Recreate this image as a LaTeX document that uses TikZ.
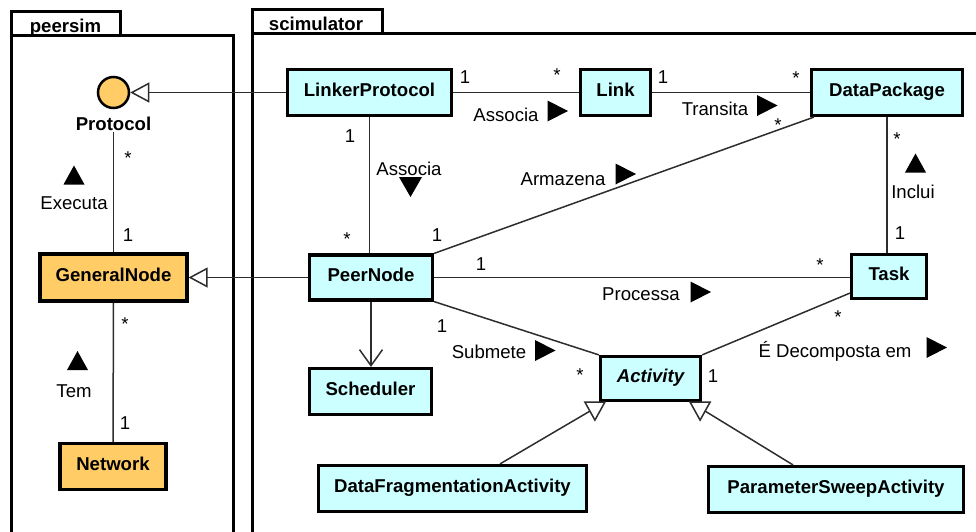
\documentclass[tikz,border=0pt]{standalone}
\usepackage{fontspec}
\setmainfont{Liberation Sans}
\usetikzlibrary{arrows.meta,calc}
\definecolor{clsfill}{RGB}{204,255,255}
\definecolor{orfill}{RGB}{255,204,102}
\definecolor{conncol}{RGB}{45,45,45}
\tikzset{
  every node/.style={font=\fontsize{18.6pt}{22pt}\selectfont},
  cls/.style={draw=black, line width=3.2pt, fill=clsfill, inner sep=0pt, text height=13.3pt, text depth=5pt, font=\fontsize{18.6pt}{22pt}\selectfont\bfseries},
  ocls/.style={cls, fill=orfill},
  pkg/.style={draw=black, line width=3pt},
  pkgname/.style={anchor=base, inner sep=0pt, font=\fontsize{18.6pt}{22pt}\selectfont\bfseries},
  lbl/.style={anchor=base, inner sep=0pt},
  conn/.style={draw=conncol, line width=1.5pt},
  gen/.style={conn, -{Triangle[length=19pt,width=20pt,fill=white]}},
  nav/.style={conn, -{Straight Barb[length=16pt,width=23pt]}},
  tright/.pic={\fill (-10,-10.5) -- (10.5,0) -- (-10,10.5) -- cycle;},
  tup/.pic={\fill (-10.5,9.5) -- (0,-9.5) -- (10.5,9.5) -- cycle;},
  tdown/.pic={\fill (-11.5,-10) -- (11.5,-10) -- (0,10) -- cycle;},
}
\begin{document}
\begin{tikzpicture}[x=1pt,y=-1pt]
\useasboundingbox (0,0) rectangle (976,531);
% packages
\draw[pkg] (11,35) rectangle (233,560);
\draw[pkg] (11,11) rectangle (120,35);
\node[pkgname] (peersim) at (65.5,32) {peersim};
\draw[pkg] (252,33) rectangle (1000,560);
\draw[pkg] (252,9) rectangle (382,33);
\node[pkgname] (scim) at (316,30) {scimulator};

% peersim
\node[circle, draw=black, line width=2.5pt, fill=orfill, minimum size=31pt, inner sep=0pt] (proto) at (113.5,92.5) {};
\node[pkgname] (protolbl) at (113.5,130) {Protocol};
\node[ocls, minimum width=147pt, minimum height=47pt] (gn) at (113.5,277.5) {GeneralNode};
\node[ocls, minimum width=106pt, minimum height=46pt] (net) at (113,466.5) {Network};

% scimulator
\node[cls, minimum width=164pt, minimum height=46pt] (lp) at (369.5,92.5) {LinkerProtocol};
\node[cls, minimum width=70pt, minimum height=46pt] (link) at (615.5,92.5) {Link};
\node[cls, minimum width=151pt, minimum height=46pt] (dp) at (887,92.5) {DataPackage};
\node[cls, minimum width=123pt, minimum height=45pt] (pn) at (371,277.5) {PeerNode};
\node[cls, minimum width=75pt, minimum height=44pt] (task) at (889,276.5) {Task};
\node[cls, minimum width=122pt, minimum height=46pt] (sch) at (370.5,391.5) {Scheduler};
\node[cls, minimum width=100pt, minimum height=44pt, font=\fontsize{18.6pt}{22pt}\selectfont\bfseries\itshape] (act) at (650.5,378.5) {Activity};
\node[cls, minimum width=268pt, minimum height=46pt] (dfa) at (452.5,488.5) {DataFragmentationActivity};
\node[cls, minimum width=255pt, minimum height=46pt] (psa) at (836,489.5) {ParameterSweepActivity};

% connectors
\draw[gen] (lp.west) -- (proto.east);
\draw[gen] (pn.west) -- (gn.east);
\draw[conn] ($(protolbl.south)+(0,2)$) -- (gn.north);
\draw[conn] (gn.south) -- (net.north);
\draw[conn] (lp.east) -- (link.west);
\draw[conn] (link.east) -- (dp.west);
\draw[conn] (lp.south) -- (lp.south |- pn.north);
\draw[conn] ($(dp.south west)+(4,0)$) -- (pn.north east);
\draw[conn] (dp.south) -- (dp.south |- task.north);
\draw[conn] (pn.east) -- (pn.east -| task.west);
\draw[nav] (pn.south) -- (pn.south |- sch.north);
\draw[conn] (pn.south east) -- (act.north west);
\draw[conn] ($(task.south west)+(0,-7)$) -- (act.north east);
\coordinate (gL) at ($(act.south west)+(-4,0)$);
\coordinate (gR) at ($(act.south east)+(-2,0)$);
\draw[conn] ($(dfa.north)+(47.5,0)$) -- ($(gL)+(-5,9)$);
\draw[conn] ($(psa.north)+(-43,0)$) -- ($(gR)+(5,9)$);
\draw[conn, fill=white] ($(gL)+(-10,0)$) -- ($(gL)+(10,0)$) -- ($(gL)+(0,18)$) -- cycle;
\draw[conn, fill=white] ($(gR)+(-10,0)$) -- ($(gR)+(10,0)$) -- ($(gR)+(0,18)$) -- cycle;

% association names
\node[lbl] (tExec) at (74,209) {Executa};
\node[lbl] (tTem) at (74,397) {Tem};
\node[lbl] (tAssoc1) at (506,121) {Associa};
\node[lbl] (tTrans) at (715,115) {Transita};
\node[lbl] (tArm) at (563,185) {Armazena};
\node[lbl] (tAssoc2) at (409,175) {Associa};
\node[lbl] (tIncl) at (913,198) {Inclui};
\node[lbl] (tProc) at (641,300) {Processa};
\node[lbl] (tSub) at (489,358) {Submete};
\node[lbl] (tDec) at (835,357) {É Decomposta em};

% direction triangles
\pic at (557.5,111) {tright};
\pic at (767,105.5) {tright};
\pic at (625.5,174) {tright};
\pic at (700.5,292) {tright};
\pic at (545,350.5) {tright};
\pic at (936.5,347.5) {tright};
\pic at (410.5,187) {tdown};
\pic at (915.5,163) {tup};
\pic at (74,175) {tup};
\pic at (77.5,360.5) {tup};

% multiplicities
\node[lbl] (m1) at (128,241.5) {1};
\node[lbl] (m2) at (125,429) {1};
\node[lbl] (m3) at (465,83) {1};
\node[lbl] (m4) at (663,83) {1};
\node[lbl] (m5) at (437,241) {1};
\node[lbl] (m6) at (350,142) {1};
\node[lbl] (m7) at (900,239) {1};
\node[lbl] (m8) at (481,270) {1};
\node[lbl] (m9) at (442,332) {1};
\node[lbl] (m10) at (713,382) {1};
\node[lbl] (s1) at (128,164) {*};
\node[lbl] (s2) at (125,330.5) {*};
\node[lbl] (s3) at (557,81.5) {*};
\node[lbl] (s4) at (796,84.5) {*};
\node[lbl] (s5) at (778,131.5) {*};
\node[lbl] (s6) at (347,245.5) {*};
\node[lbl] (s7) at (897,145) {*};
\node[lbl] (s8) at (820,271.5) {*};
\node[lbl] (s9) at (580,381.5) {*};
\node[lbl] (s10) at (838,323) {*};
\end{tikzpicture}
\end{document}
